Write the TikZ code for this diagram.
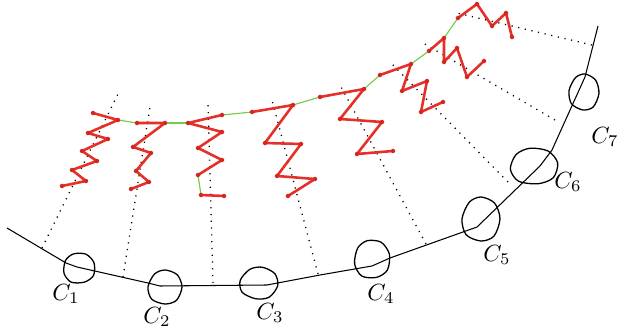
\documentclass[tikz,border=0pt]{standalone}
\usetikzlibrary{calc}

\definecolor{redline}{RGB}{228,48,40}
\definecolor{reddot}{RGB}{210,38,32}
\definecolor{greenline}{RGB}{118,204,78}

% egg shaped loop: centre, x radius, y radius, rotation
\newcommand{\blobat}[4]{%
  \draw[blob, shift={(#1)}, xscale=#2, yscale=#3, rotate=#4]
    plot[smooth cycle] coordinates {(0,-1) (0.72,-0.72) (1,0) (0.68,0.78) (0,1) (-0.78,0.72) (-1,0) (-0.62,-0.76)};}

\begin{document}
\begin{tikzpicture}[
  x=0.015cm, y=-0.015cm,
  curve/.style={draw=black, line width=0.45pt, line join=round},
  blob/.style={draw=black, line width=0.55pt},
  guide/.style={draw=black, line width=0.55pt, dash pattern=on 0.5pt off 2.4pt},
  chain/.style={draw=redline, line width=1.1pt, line join=round, mark=*, mark size=0.5pt, mark options={fill=reddot, draw=reddot, solid}},
  link/.style={draw=greenline, line width=0.5pt},
  tag/.style={font=\normalsize, inner sep=0pt}
]
\useasboundingbox (0,0) rectangle (617,334);

% dotted guides from the curve
\draw[guide] (42,248) -- (118,94);
\draw[guide] (123,277) -- (150,107);
\draw[guide] (213,283) -- (208,102);
\draw[guide] (318,274) -- (272,100);
\draw[guide] (426,244) -- (340,85);
\draw[guide] (508,182) -- (389,61);
\draw[guide] (555,120) -- (423,43);
\draw[guide] (592,45) -- (457,13);

% the curve
\draw[curve] plot coordinates {(7,228) (66,263) (77,267) (148,283) (160,286) (267,285) (320,275) (372,266) (390,258) (477,227) (540,166) (552,150) (585,77) (598,26)};

% loops
\coordinate (c1) at (79,268);
\coordinate (c2) at (165,287);
\coordinate (c3) at (259,283);
\coordinate (c4) at (372,259);
\coordinate (c5) at (481,219);
\coordinate (c6) at (534,166);
\coordinate (c7) at (584,92);
\blobat{c1}{16}{15}{20}
\blobat{c2}{17}{17}{0}
\blobat{c3}{19}{16}{-10}
\blobat{c4}{18}{19}{15}
\blobat{c5}{19}{22}{0}
\blobat{c6}{24}{18}{10}
\blobat{c7}{15}{18}{-5}

\node[tag] (t1) at (66,294) {$C_1$};
\node[tag] (t2) at (157,317) {$C_2$};
\node[tag] (t3) at (270,313) {$C_3$};
\node[tag] (t4) at (381,294) {$C_4$};
\node[tag] (t5) at (497,255) {$C_5$};
\node[tag] (t6) at (568,182) {$C_6$};
\node[tag] (t7) at (605,137) {$C_7$};

% green links
\draw[link] (118,120) -- (137,123);
\draw[link] (165,123) -- (188,123);
\draw[link] (222,115) -- (252,112);
\draw[link] (293,105) -- (320,97);
\draw[link] (364,89) -- (380,75);
\draw[link] (411,64) -- (429,51);
\draw[link] (444,38) -- (458,18);
\draw[link] (198,175) -- (201,195);

% red zigzags
\draw[chain] plot coordinates {(93,113) (118,120) (88,133) (108,139) (82,151) (97,161) (72,170) (86,181) (62,186)};
\draw[chain] plot coordinates {(137,123) (165,123) (133,147) (151,153) (136,171) (149,182) (131,189)};
\draw[chain] plot coordinates {(222,115) (188,123) (222,132) (198,148) (222,160) (198,175)};
\draw[chain] plot coordinates {(201,195) (224,196)};
\draw[chain] plot coordinates {(252,112) (293,105) (265,143) (301,144) (277,176) (315,179) (288,196)};
\draw[chain] plot coordinates {(320,97) (364,89) (340,119) (382,122) (357,154) (393,151)};
\draw[chain] plot coordinates {(380,75) (411,64) (402,91) (427,81) (421,112) (443,102)};
\draw[chain] plot coordinates {(429,51) (444,38) (444,62) (457,48) (467,77) (484,61)};
\draw[chain] plot coordinates {(458,18) (477,4) (492,26) (506,13) (512,37)};

\end{tikzpicture}
\end{document}
